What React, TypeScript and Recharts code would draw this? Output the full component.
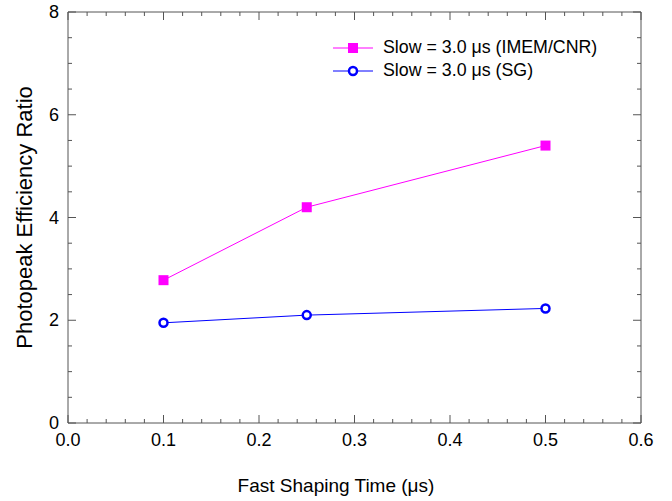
import { LineChart, Line, XAxis, YAxis, Legend } from "recharts";

const fastShaping = [0.1, 0.25, 0.5];
const imemCnr = [2.78, 4.2, 5.4];
const sgValues = [1.95, 2.1, 2.23];

const xMajor = [0, 0.1, 0.2, 0.3, 0.4, 0.5, 0.6];
const yMajor = [0, 2, 4, 6, 8];

const seriesNames = ["Slow = 3.0 μs (IMEM/CNR)", "Slow = 3.0 μs (SG)"];

// minor ticks: 4 between x majors, 3 between y majors
const xTicks = Array.from({ length: 31 }, (_, i) => Math.round(i * 2) / 100);
const yTicks = Array.from({ length: 17 }, (_, i) => i / 2);

const chartData = fastShaping.map((x, i) => ({
  x,
  imem: imemCnr[i],
  sg: sgValues[i],
}));

const FONT = "'Liberation Sans', Arial, sans-serif";
const AXIS = "#555";
const PINK = "#ff00ff";
const BLUE = "#0000ff";

const isMajor = (v: number, majors: number[]) =>
  majors.some((m) => Math.abs(m - v) < 1e-6);

const BottomTick = (props: any) => {
  const { x, y, payload } = props;
  const major = isMajor(payload.value, xMajor);
  return (
    <g>
      <line x1={x} x2={x} y1={y} y2={y - (major ? 8 : 4)} stroke={AXIS} />
      {major && (
        <text x={x} y={y + 23} textAnchor="middle" fontSize={18} fontFamily={FONT} fill="#000">
          {payload.value.toFixed(1)}
        </text>
      )}
    </g>
  );
};

const TopTick = (props: any) => {
  const { x, y, payload } = props;
  const major = isMajor(payload.value, xMajor);
  return <line x1={x} x2={x} y1={y} y2={y + (major ? 8 : 4)} stroke={AXIS} />;
};

const LeftTick = (props: any) => {
  const { x, y, payload } = props;
  const major = isMajor(payload.value, yMajor);
  return (
    <g>
      <line x1={x} x2={x + (major ? 8 : 4)} y1={y} y2={y} stroke={AXIS} />
      {major && (
        <text x={x - 9} y={y + 6} textAnchor="end" fontSize={18} fontFamily={FONT} fill="#000">
          {payload.value}
        </text>
      )}
    </g>
  );
};

const RightTick = (props: any) => {
  const { x, y, payload } = props;
  const major = isMajor(payload.value, yMajor);
  return <line x1={x} x2={x - (major ? 8 : 4)} y1={y} y2={y} stroke={AXIS} />;
};

const SquareDot = (props: any) => {
  const { cx, cy } = props;
  return <rect x={cx - 5} y={cy - 5} width={10} height={10} fill={PINK} />;
};

const RingDot = (props: any) => {
  const { cx, cy } = props;
  return <circle cx={cx} cy={cy} r={4} fill="#fff" stroke={BLUE} strokeWidth={2.5} />;
};

const LegendContent = () => (
  <div style={{ fontFamily: FONT, fontSize: 17.8, color: "#000" }}>
    {seriesNames.map((name, i) => (
      <div key={name} style={{ display: "flex", alignItems: "center", height: 23 }}>
        <svg width={40} height={14}>
          <line x1={0} x2={40} y1={7} y2={7} stroke={i === 0 ? PINK : BLUE} />
          {i === 0 ? (
            <rect x={15} y={2} width={10} height={10} fill={PINK} />
          ) : (
            <circle cx={20} cy={7} r={4} fill="#fff" stroke={BLUE} strokeWidth={2.5} />
          )}
        </svg>
        <span style={{ marginLeft: 10 }}>{name}</span>
      </div>
    ))}
  </div>
);

const XTitle = (props: any) => {
  const { viewBox } = props;
  return (
    <text
      x={336}
      y={viewBox.y + 69}
      textAnchor="middle"
      fontSize={19}
      fontFamily={FONT}
      fill="#000"
    >
      Fast Shaping Time (μs)
    </text>
  );
};

const YTitle = (props: any) => {
  const { viewBox } = props;
  const cx = 32;
  const cy = viewBox.y + viewBox.height / 2;
  return (
    <text
      x={cx}
      y={cy}
      transform={`rotate(-90 ${cx} ${cy})`}
      textAnchor="middle"
      fontSize={22}
      fontFamily={FONT}
      fill="#000"
    >
      Photopeak Efficiency Ratio
    </text>
  );
};

export default function App() {
  return (
    <div style={{ position: "absolute", left: 0, top: 0, background: "#fff" }}>
      <LineChart
        width={672}
        height={501}
        data={chartData}
        margin={{ top: 11, right: 30, left: 0, bottom: 0 }}
      >
        <XAxis
          dataKey="x"
          type="number"
          domain={[0, 0.6]}
          ticks={xTicks}
          interval={0}
          height={78}
          tickSize={0}
          tickMargin={0}
          tickLine={false}
          axisLine={{ stroke: AXIS }}
          tick={<BottomTick />}
          label={<XTitle />}
        />
        <XAxis
          xAxisId="top"
          orientation="top"
          dataKey="x"
          type="number"
          domain={[0, 0.6]}
          ticks={xTicks}
          interval={0}
          height={1}
          tickSize={0}
          tickMargin={0}
          tickLine={false}
          axisLine={{ stroke: AXIS }}
          tick={<TopTick />}
        />
        <YAxis
          type="number"
          domain={[0, 8]}
          ticks={yTicks}
          interval={0}
          width={68}
          tickSize={0}
          tickMargin={0}
          tickLine={false}
          axisLine={{ stroke: AXIS }}
          tick={<LeftTick />}
          label={<YTitle />}
        />
        <YAxis
          yAxisId="right"
          orientation="right"
          type="number"
          domain={[0, 8]}
          ticks={yTicks}
          interval={0}
          width={1}
          tickSize={0}
          tickMargin={0}
          tickLine={false}
          axisLine={{ stroke: AXIS }}
          tick={<RightTick />}
        />
        <Legend
          layout="vertical"
          align="center"
          verticalAlign="middle"
          content={<LegendContent />}
          wrapperStyle={{ position: "absolute", top: 36, left: 333, width: "auto" }}
        />
        {/* invisible copy so the mirrored top/right axes get drawn */}
        <Line
          xAxisId="top"
          yAxisId="right"
          dataKey="imem"
          stroke="none"
          dot={false}
          activeDot={false}
          legendType="none"
          isAnimationActive={false}
        />
        <Line
          dataKey="imem"
          stroke={PINK}
          strokeWidth={1}
          dot={<SquareDot />}
          activeDot={false}
          isAnimationActive={false}
        />
        <Line
          dataKey="sg"
          stroke={BLUE}
          strokeWidth={1}
          dot={<RingDot />}
          activeDot={false}
          isAnimationActive={false}
        />
      </LineChart>
    </div>
  );
}
